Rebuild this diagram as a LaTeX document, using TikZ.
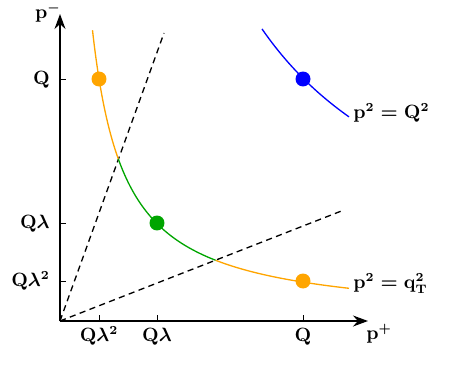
\documentclass[tikz,border=0pt]{standalone}
\usetikzlibrary{arrows.meta}
\definecolor{corange}{RGB}{255,165,0}
\definecolor{cgreen}{RGB}{0,165,0}
\definecolor{cblue}{RGB}{0,0,255}
\tikzset{
  axis/.style={line width=0.75pt,-{Stealth[length=3mm,width=2.2mm]}},
  tick/.style={line width=0.5pt},
  guide/.style={line width=0.75pt,dash pattern=on 3.5pt off 2.5pt},
  curve/.style={line width=0.75pt},
  dot/.style={circle,inner sep=0pt,minimum size=0.3cm},
  lbl/.style={inner sep=0pt,font=\fontsize{10.5}{12}\selectfont\boldmath},
}
\begin{document}
\begin{tikzpicture}[x=0.02cm,y=-0.02cm]
\useasboundingbox (0,0) rectangle (457,365);
\coordinate (O) at (60,321);
\coordinate (ytop) at (60,14);
\coordinate (xend) at (368,321);
\coordinate (steep) at (164,33);
\coordinate (shallow) at (344,210);
% axes
\draw[axis] (O) -- (ytop);
\draw[axis] (O) -- (xend);
% ticks
\foreach \y/\n in {79/yQ,223/yQl,281/yQll}{
  \coordinate (\n) at (60,\y);
  \draw[tick] (\n) -- ++(6,0);
}
\foreach \x/\n in {99/xQll,157/xQl,303/xQ}{
  \coordinate (\n) at (\x,321);
  \draw[tick] (\n) -- ++(0,-6);
}
% dashed lines
\draw[guide] (O) -- (steep);
\draw[guide] (O) -- (shallow);
% hyperbola p^2 = q_T^2
\draw[curve,corange] plot[domain=32.5:58.3,samples=40,smooth] ({60+\x},{321-9450/\x});
\draw[curve,cgreen] plot[domain=58.3:155.7,samples=60,smooth] ({60+\x},{321-9450/\x});
\draw[curve,corange] plot[domain=155.7:289,samples=60,smooth] ({60+\x},{321-9450/\x});
% hyperbola p^2 = Q^2
\draw[curve,cblue] plot[domain=202:289,samples=40,smooth] ({60+\x},{321-(590/\x)*100});
% dots
\node[dot,fill=corange] (d1) at (99,79) {};
\node[dot,fill=corange] (d2) at (303,281) {};
\node[dot,fill=cgreen] (d3) at (157,223) {};
\node[dot,fill=cblue] (d4) at (303,79) {};
% labels
\node[lbl] (lpm) at (48,13) {$\mathbf{p}^{-}$};
\node[lbl] (lpp) at (379,334) {$\mathbf{p}^{+}$};
\node[lbl,anchor=base east] (lyQ) at (50,84) {$\mathbf{Q}$};
\node[lbl,anchor=base east] (lyQl) at (50,228) {$\mathbf{Q}\lambda$};
\node[lbl,anchor=base east] (lyQll) at (50,286) {$\mathbf{Q}\lambda^{\mathbf{2}}$};
\node[lbl,anchor=base] (lxQll) at (99,341) {$\mathbf{Q}\lambda^{\mathbf{2}}$};
\node[lbl,anchor=base] (lxQl) at (157,341) {$\mathbf{Q}\lambda$};
\node[lbl,anchor=base] (lxQ) at (303,341) {$\mathbf{Q}$};
\node[lbl,anchor=base west] (lQQ) at (353,118.5) {$\mathbf{p}^{\mathbf{2}}=\mathbf{Q}^{\mathbf{2}}$};
\node[lbl,anchor=base west] (lqT) at (353,288) {$\mathbf{p}^{\mathbf{2}}=\mathbf{q}_{\mathbf{T}}^{\mathbf{2}}$};
\end{tikzpicture}
\end{document}
